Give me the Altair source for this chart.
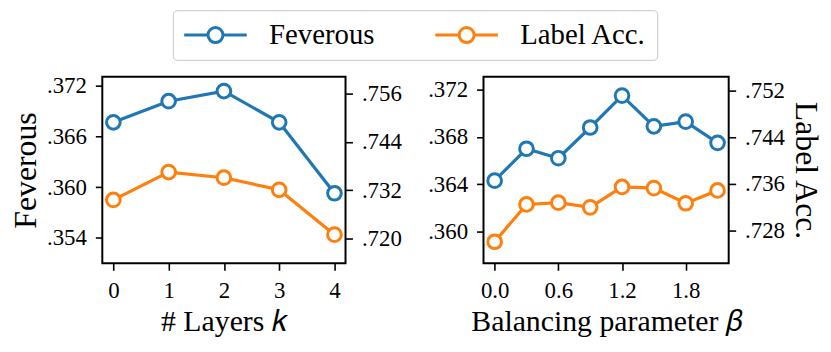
import altair as alt
import pandas as pd

# ---- data ----
layers_k = [0, 1, 2, 3, 4]
fev_k = [0.3677, 0.3702, 0.3714, 0.3677, 0.3593]
acc_k = [0.7296, 0.7365, 0.7351, 0.7321, 0.7210]

beta = [0.0, 0.3, 0.6, 0.9, 1.2, 1.5, 1.8, 2.1]
fev_b = [0.3643, 0.3670, 0.3662, 0.3688, 0.3715, 0.3689, 0.3693, 0.3675]
acc_b = [0.7261, 0.7325, 0.7328, 0.7320, 0.7355, 0.7353, 0.7327, 0.7349]

series = ["Feverous", "Label Acc."]
colors = ["#1f77b4", "#ff7f0e"]

k_ticks = [0, 1, 2, 3, 4]
b_ticks = [0.0, 0.6, 1.2, 1.8]
fev_k_ticks = [0.354, 0.360, 0.366, 0.372]
acc_k_ticks = [0.720, 0.732, 0.744, 0.756]
fev_b_ticks = [0.360, 0.364, 0.368, 0.372]
acc_b_ticks = [0.728, 0.736, 0.744, 0.752]

FONT = "Liberation Serif"
SYMBOL = ("M-1,0L-0.24,0M0.24,0L1,0M0.24,0A0.24,0.24,0,1,1,-0.24,0"
          "A0.24,0.24,0,1,1,0.24,0Z")


def make_df(xs, a, b):
    return pd.DataFrame({
        "x": list(xs) + list(xs),
        "metric": [series[0]] * len(xs) + [series[1]] * len(xs),
        "value": list(a) + list(b),
    })


legend = alt.Legend(
    orient="none", legendX=71, legendY=-67, direction="horizontal",
    title=None, symbolType=SYMBOL, symbolSize=3969, symbolStrokeWidth=3,
    symbolFillColor="white", clipHeight=30, labelOffset=21,
    columnPadding=59, padding=10, strokeColor="#c8c8c8", fillColor="white",
    cornerRadius=4, labelFont=FONT, labelFontSize=29, labelColor="black",
)

AX = dict(labelFont=FONT, titleFont=FONT, labelFontSize=23, labelColor="black",
          titleColor="black", titleFontWeight="normal", tickColor="black",
          tickWidth=1.6, tickSize=7, labelPadding=9, domain=False, grid=False)


def panel(df, xdom, xticks, xfmt, xtitle, ldom, lticks, rdom, rticks,
          ltitle, rtitle, width):
    color = alt.Color("metric:N", scale=alt.Scale(domain=series, range=colors),
                      legend=legend)
    stroke = alt.Stroke("metric:N",
                        scale=alt.Scale(domain=series, range=colors),
                        legend=None)
    xenc = alt.X("x:Q", scale=alt.Scale(domain=xdom, nice=False, zero=False),
                 axis=alt.Axis(values=xticks, format=xfmt, title=xtitle,
                               titleFontSize=30, titlePadding=5, **AX))

    def sub(metric, dom, ticks, orient, title):
        y = alt.Y("value:Q",
                  scale=alt.Scale(domain=dom, nice=False, zero=False),
                  axis=alt.Axis(values=ticks, orient=orient, title=title,
                                titleFontSize=32, titlePadding=4,
                                labelExpr="substring(format(datum.value, '.3f'), 1)",
                                **AX))
        base = alt.Chart(df).transform_filter(alt.datum.metric == metric)
        line = base.mark_line(strokeWidth=3.2).encode(x=xenc, y=y, color=color)
        pts = base.mark_point(shape="circle", filled=True, fill="white",
                              size=190, strokeWidth=3, opacity=1).encode(
            x=xenc, y=y, stroke=stroke)
        return alt.layer(line, pts)

    left = sub(series[0], ldom, lticks, "left", ltitle)
    right = sub(series[1], rdom, rticks, "right", rtitle)
    return alt.layer(left, right).resolve_scale(y="independent").properties(
        width=width, height=188)


p1 = panel(make_df(layers_k, fev_k, acc_k), [-0.2, 4.2], k_ticks, "d",
           "# Layers 𝑘", [0.3510, 0.3731], fev_k_ticks,
           [0.7139, 0.7601], acc_k_ticks, "Feverous", None, 245)
p2 = panel(make_df(beta, fev_b, acc_b), [-0.105, 2.205], b_ticks, ".1f",
           "Balancing parameter 𝛽", [0.3573, 0.3731], fev_b_ticks,
           [0.7224, 0.7544], acc_b_ticks, None, "Label Acc.", 247)

chart = alt.hconcat(p1, p2, spacing=23).properties(
    padding=0
).configure(
    font=FONT
).configure_view(
    stroke="black", strokeWidth=2
)

chart.save("out.html", embed_options={"renderer": "svg", "actions": False})
